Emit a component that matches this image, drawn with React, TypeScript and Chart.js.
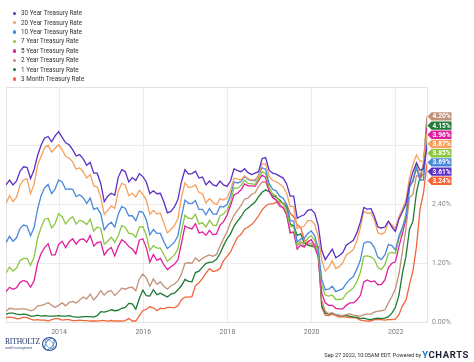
import React, { useEffect, useRef } from "react";
import { Chart, registerables } from "chart.js";

Chart.register(...registerables);

// First point: Sep 2012, one point per month, last point Sep 2022
const firstMonth = { year: 2012, month: 9 };
const firstX = 2012.74; // decimal year of first observation
const lastX = 2022.74;

const seriesNames = [
  "30 Year Treasury Rate",
  "20 Year Treasury Rate",
  "10 Year Treasury Rate",
  "7 Year Treasury Rate",
  "5 Year Treasury Rate",
  "2 Year Treasury Rate",
  "1 Year Treasury Rate",
  "3 Month Treasury Rate",
];

const seriesColors = [
  "#5b30c4",
  "#f6a05c",
  "#4a88da",
  "#8cc641",
  "#df1f9d",
  "#c2917a",
  "#1f7a33",
  "#f0653a",
];

const t30 = [
  2.8, 2.9, 2.8, 2.88,
  3.08, 3.17, 3.16, 2.93, 3.11, 3.4, 3.61, 3.76, 3.79, 3.68, 3.8, 3.89,
  3.77, 3.66, 3.62, 3.52, 3.39, 3.42, 3.33, 3.2, 3.26, 3.04, 3.04, 2.83,
  2.46, 2.57, 2.63, 2.59, 2.96, 3.11, 3.07, 2.86, 2.95, 2.89, 3.03, 2.97,
  2.86, 2.62, 2.68, 2.62, 2.63, 2.45, 2.23, 2.26, 2.35, 2.5, 2.86, 3.11,
  3.02, 3.03, 3.08, 2.94, 2.96, 2.8, 2.88, 2.8, 2.78, 2.88, 2.8, 2.77,
  2.88, 3.13, 3.09, 3.07, 3.13, 3.05, 3.01, 3.04, 3.07, 3.34, 3.36, 3.1,
  3.04, 3.02, 2.98, 2.94, 2.82, 2.57, 2.57, 2.12, 2.16, 2.19, 2.28, 2.3,
  2.22, 1.97, 1.46, 1.27, 1.38, 1.49, 1.31, 1.36, 1.42, 1.57, 1.62, 1.67,
  1.82, 2.04, 2.34, 2.3, 2.32, 2.16, 1.94, 1.92, 1.94, 2.06, 1.94, 1.85,
  2.1, 2.25, 2.41, 2.81, 3.07, 3.25, 3.1, 3.13, 3.61,
];

const t20 = [
  2.42, 2.58, 2.46, 2.55,
  2.8, 2.9, 2.93, 2.62, 2.81, 3.2, 3.38, 3.56, 3.61, 3.47, 3.55, 3.62,
  3.52, 3.38, 3.35, 3.27, 3.12, 3.15, 3.07, 2.94, 3.01, 2.78, 2.76, 2.55,
  2.2, 2.28, 2.37, 2.32, 2.67, 2.83, 2.8, 2.58, 2.63, 2.55, 2.69, 2.61,
  2.49, 2.2, 2.28, 2.21, 2.22, 2.02, 1.82, 1.89, 1.97, 2.11, 2.54, 2.84,
  2.75, 2.76, 2.8, 2.65, 2.62, 2.43, 2.52, 2.44, 2.4, 2.52, 2.49, 2.53,
  2.69, 2.94, 2.92, 2.91, 2.98, 2.93, 2.9, 2.91, 2.98, 3.23, 3.23, 2.98,
  2.89, 2.87, 2.82, 2.76, 2.63, 2.36, 2.36, 1.91, 1.94, 1.96, 2.07, 2.07,
  2.0, 1.74, 1.26, 1.04, 1.12, 1.25, 1.09, 1.13, 1.21, 1.37, 1.42, 1.48,
  1.66, 1.93, 2.26, 2.22, 2.23, 2.09, 1.82, 1.79, 1.83, 2.05, 1.98, 1.91,
  2.15, 2.31, 2.49, 2.94, 3.22, 3.41, 3.28, 3.29, 3.87,
];

const t10 = [
  1.62, 1.75, 1.65, 1.72,
  1.91, 1.98, 1.96, 1.76, 1.93, 2.3, 2.58, 2.74, 2.81, 2.62, 2.72, 2.9,
  2.86, 2.71, 2.72, 2.71, 2.56, 2.6, 2.54, 2.42, 2.53, 2.3, 2.33, 2.21,
  1.88, 1.98, 2.04, 1.94, 2.2, 2.36, 2.32, 2.17, 2.17, 2.07, 2.26, 2.24,
  2.09, 1.78, 1.89, 1.81, 1.81, 1.64, 1.5, 1.56, 1.63, 1.76, 2.14, 2.49,
  2.43, 2.42, 2.48, 2.3, 2.3, 2.19, 2.32, 2.21, 2.2, 2.36, 2.35, 2.4,
  2.58, 2.86, 2.84, 2.87, 2.98, 2.91, 2.89, 2.89, 3.0, 3.15, 3.12, 2.83,
  2.71, 2.68, 2.57, 2.53, 2.4, 2.07, 2.06, 1.63, 1.7, 1.71, 1.81, 1.86,
  1.76, 1.5, 0.87, 0.66, 0.67, 0.73, 0.62, 0.65, 0.68, 0.79, 0.87, 0.93,
  1.08, 1.26, 1.61, 1.64, 1.62, 1.52, 1.32, 1.28, 1.37, 1.58, 1.56, 1.47,
  1.76, 1.93, 2.13, 2.75, 2.9, 3.14, 2.9, 2.9, 3.69,
];

const t7 = [
  1.0, 1.12, 1.04, 1.1,
  1.25, 1.3, 1.3, 1.16, 1.32, 1.71, 1.93, 2.1, 2.12, 1.92, 2.01, 2.21,
  2.15, 2.0, 2.1, 2.15, 2.0, 2.08, 2.05, 1.99, 2.1, 1.86, 1.94, 1.91,
  1.59, 1.65, 1.73, 1.63, 1.76, 1.97, 1.93, 1.81, 1.8, 1.73, 1.94, 1.95,
  1.77, 1.46, 1.56, 1.51, 1.51, 1.38, 1.24, 1.3, 1.37, 1.49, 1.85, 2.18,
  2.12, 2.11, 2.2, 2.0, 2.03, 1.94, 2.08, 1.98, 1.97, 2.17, 2.21, 2.28,
  2.46, 2.74, 2.73, 2.79, 2.9, 2.83, 2.82, 2.81, 2.94, 3.07, 3.03, 2.75,
  2.62, 2.58, 2.46, 2.42, 2.27, 1.95, 1.95, 1.56, 1.61, 1.61, 1.71, 1.76,
  1.67, 1.38, 0.76, 0.55, 0.53, 0.55, 0.46, 0.46, 0.47, 0.58, 0.64, 0.7,
  0.82, 1.01, 1.34, 1.35, 1.33, 1.28, 1.11, 1.07, 1.17, 1.4, 1.42, 1.4,
  1.7, 1.9, 2.23, 2.76, 2.89, 3.23, 2.9, 3.01, 3.85,
];

const t5 = [
  0.62, 0.71, 0.67, 0.7,
  0.81, 0.85, 0.82, 0.71, 0.84, 1.2, 1.4, 1.52, 1.6, 1.37, 1.37, 1.58,
  1.65, 1.52, 1.64, 1.7, 1.59, 1.68, 1.7, 1.63, 1.77, 1.55, 1.62, 1.64,
  1.37, 1.47, 1.52, 1.35, 1.54, 1.68, 1.63, 1.54, 1.49, 1.39, 1.67, 1.7,
  1.52, 1.22, 1.38, 1.26, 1.3, 1.17, 1.07, 1.13, 1.18, 1.27, 1.6, 1.96,
  1.92, 1.9, 2.01, 1.82, 1.84, 1.77, 1.87, 1.78, 1.8, 1.98, 2.05, 2.18,
  2.38, 2.6, 2.63, 2.7, 2.82, 2.78, 2.78, 2.77, 2.89, 3.0, 2.95, 2.68,
  2.54, 2.49, 2.37, 2.33, 2.19, 1.83, 1.83, 1.49, 1.57, 1.53, 1.64, 1.68,
  1.56, 1.32, 0.59, 0.39, 0.34, 0.34, 0.28, 0.27, 0.27, 0.34, 0.39, 0.39,
  0.45, 0.54, 0.82, 0.86, 0.82, 0.84, 0.76, 0.77, 0.86, 1.11, 1.2, 1.23,
  1.54, 1.81, 2.11, 2.78, 2.87, 3.19, 2.96, 3.03, 3.96,
];

const t2 = [
  0.22, 0.28, 0.27, 0.26,
  0.27, 0.27, 0.26, 0.23, 0.25, 0.33, 0.34, 0.36, 0.4, 0.34, 0.3, 0.34,
  0.39, 0.33, 0.4, 0.42, 0.39, 0.45, 0.51, 0.47, 0.57, 0.45, 0.53, 0.64,
  0.55, 0.62, 0.64, 0.54, 0.61, 0.69, 0.67, 0.7, 0.71, 0.64, 0.88, 0.98,
  0.9, 0.73, 0.88, 0.77, 0.82, 0.73, 0.67, 0.74, 0.77, 0.84, 0.98, 1.2,
  1.21, 1.2, 1.31, 1.24, 1.3, 1.34, 1.37, 1.34, 1.38, 1.55, 1.7, 1.84,
  2.03, 2.18, 2.28, 2.38, 2.51, 2.53, 2.61, 2.64, 2.77, 2.86, 2.86, 2.68,
  2.54, 2.5, 2.41, 2.34, 2.21, 1.81, 1.84, 1.57, 1.65, 1.55, 1.61, 1.61,
  1.52, 1.33, 0.45, 0.22, 0.17, 0.19, 0.14, 0.14, 0.13, 0.15, 0.17, 0.14,
  0.13, 0.12, 0.15, 0.16, 0.16, 0.2, 0.22, 0.23, 0.25, 0.39, 0.52, 0.68,
  0.98, 1.44, 1.91, 2.54, 2.61, 2.99, 2.97, 3.25, 4.2,
];

const t1 = [
  0.16, 0.18, 0.18, 0.16,
  0.15, 0.16, 0.15, 0.12, 0.12, 0.14, 0.12, 0.13, 0.12, 0.12, 0.12, 0.13,
  0.12, 0.12, 0.13, 0.11, 0.1, 0.1, 0.11, 0.11, 0.11, 0.1, 0.13, 0.21,
  0.2, 0.22, 0.25, 0.23, 0.24, 0.28, 0.3, 0.38, 0.37, 0.26, 0.48, 0.65,
  0.54, 0.53, 0.66, 0.56, 0.59, 0.55, 0.51, 0.57, 0.59, 0.66, 0.74, 0.87,
  0.83, 0.82, 1.01, 1.04, 1.12, 1.2, 1.22, 1.23, 1.28, 1.4, 1.56, 1.7,
  1.8, 1.96, 2.06, 2.15, 2.27, 2.33, 2.39, 2.45, 2.56, 2.65, 2.7, 2.66,
  2.58, 2.55, 2.49, 2.42, 2.34, 2.0, 1.96, 1.77, 1.8, 1.61, 1.57, 1.55,
  1.53, 1.41, 0.33, 0.18, 0.16, 0.18, 0.15, 0.13, 0.13, 0.13, 0.12, 0.1,
  0.1, 0.07, 0.08, 0.06, 0.05, 0.07, 0.08, 0.07, 0.08, 0.11, 0.18, 0.3,
  0.55, 1.0, 1.34, 1.89, 2.06, 2.65, 2.96, 3.2, 4.15,
];

const t3m = [
  0.09, 0.1, 0.09, 0.07,
  0.07, 0.1, 0.09, 0.06, 0.04, 0.05, 0.04, 0.04, 0.02, 0.05, 0.07, 0.07,
  0.04, 0.05, 0.05, 0.03, 0.03, 0.04, 0.03, 0.03, 0.02, 0.02, 0.02, 0.03,
  0.03, 0.02, 0.03, 0.02, 0.02, 0.02, 0.03, 0.07, 0.02, 0.02, 0.13, 0.23,
  0.26, 0.31, 0.29, 0.23, 0.28, 0.27, 0.3, 0.3, 0.29, 0.33, 0.45, 0.51,
  0.51, 0.52, 0.74, 0.8, 0.89, 1.0, 1.09, 1.03, 1.05, 1.09, 1.25, 1.34,
  1.43, 1.59, 1.73, 1.79, 1.9, 1.94, 1.99, 2.07, 2.17, 2.29, 2.37, 2.41,
  2.42, 2.44, 2.45, 2.43, 2.4, 2.22, 2.15, 1.99, 1.93, 1.69, 1.57, 1.57,
  1.55, 1.54, 0.3, 0.14, 0.13, 0.16, 0.13, 0.1, 0.11, 0.1, 0.09, 0.09,
  0.08, 0.04, 0.03, 0.02, 0.02, 0.05, 0.05, 0.05, 0.04, 0.05, 0.05, 0.06,
  0.15, 0.33, 0.44, 0.76, 1.05, 1.54, 2.3, 2.63, 3.24,
];

const seriesValues = [t30, t20, t10, t7, t5, t2, t1, t3m];

const yTickValues = [0, 1.2, 2.4, 3.6, 4.8];
const yLabelledTicks = [0, 1.2, 2.4];
const xTickYears = [2014, 2016, 2018, 2020, 2022];

const monthLabels: string[] = t30.map((_, i) => {
  const m = firstMonth.month - 1 + i;
  const y = firstMonth.year + Math.floor(m / 12);
  return `${y}-${String((m % 12) + 1).padStart(2, "0")}`;
});
const xValues = monthLabels.map((_, i) => firstX + i / 12);

const framePlugin = {
  id: "frame",
  beforeDatasetsDraw(chart: any) {
    const { ctx, chartArea } = chart;
    ctx.save();
    ctx.strokeStyle = "#e3e3e3";
    ctx.lineWidth = 1;
    ctx.strokeRect(
      Math.round(chartArea.left) + 0.5,
      Math.round(chartArea.top) + 0.5,
      Math.round(chartArea.right - chartArea.left),
      Math.round(chartArea.bottom - chartArea.top)
    );
    ctx.restore();
  },
};

const tagPlugin = {
  id: "lastTags",
  afterDraw(chart: any) {
    const { ctx, chartArea } = chart;
    const yScale = chart.scales.y;
    const items = chart.data.datasets.map((ds: any, i: number) => {
      const last = ds.data[ds.data.length - 1].y;
      return { v: last, color: seriesColors[i], y: yScale.getPixelForValue(last) };
    });
    items.sort((a: any, b: any) => b.v - a.v);
    const gap = 9.2;
    for (let i = 1; i < items.length; i++) {
      if (items[i].y < items[i - 1].y + gap) items[i].y = items[i - 1].y + gap;
    }
    const x0 = chartArea.right + 0.5;
    const h = 8.4;
    const w = 24;
    ctx.save();
    ctx.font = "bold 6.6px Roboto";
    ctx.textBaseline = "middle";
    ctx.textAlign = "center";
    for (const it of items) {
      ctx.fillStyle = it.color;
      ctx.beginPath();
      ctx.moveTo(x0, it.y);
      ctx.lineTo(x0 + 4, it.y - h / 2);
      ctx.lineTo(x0 + w, it.y - h / 2);
      ctx.lineTo(x0 + w, it.y + h / 2);
      ctx.lineTo(x0 + 4, it.y + h / 2);
      ctx.closePath();
      ctx.fill();
      ctx.fillStyle = "#ffffff";
      ctx.fillText(it.v.toFixed(2) + "%", x0 + 4 + (w - 4) / 2, it.y + 0.3);
    }
    ctx.restore();
  },
};

export default function App() {
  const canvasRef = useRef<HTMLCanvasElement | null>(null);

  useEffect(() => {
    document.body.style.margin = "0";
    if (!canvasRef.current) return;
    Chart.defaults.font.family = "Roboto";
    const chart = new Chart(canvasRef.current, {
      type: "line",
      data: {
        datasets: seriesNames.map((name, i) => ({
          label: name,
          data: seriesValues[i].map((v, j) => ({ x: xValues[j], y: v })),
          borderColor: seriesColors[i],
          backgroundColor: seriesColors[i],
          borderWidth: 1.3,
          pointRadius: 0,
          tension: 0,
          fill: false,
        })),
      },
      options: {
        responsive: false,
        animation: false,
        devicePixelRatio: 1,
        layout: { padding: { left: 6, top: 87, right: 0, bottom: 0 } },
        plugins: {
          legend: { display: false },
          tooltip: { enabled: false },
        },
        scales: {
          x: {
            type: "linear",
            min: firstX,
            max: lastX,
            afterBuildTicks: (scale: any) => {
              scale.ticks = xTickYears.map((v) => ({ value: v }));
            },
            afterFit: (scale: any) => {
              scale.height = 40;
            },
            ticks: {
              callback: (v: any) => String(v),
              color: "#777",
              font: { size: 7 },
              padding: 6,
              maxRotation: 0,
            },
            grid: { color: "#ececec", drawTicks: false },
            border: { display: false },
          },
          y: {
            position: "right",
            min: 0,
            max: 4.8,
            afterBuildTicks: (scale: any) => {
              scale.ticks = yTickValues.map((v) => ({ value: v }));
            },
            afterFit: (scale: any) => {
              scale.width = 47;
            },
            ticks: {
              callback: (v: any) =>
                yLabelledTicks.includes(Number(v)) ? Number(v).toFixed(2) + "%" : "",
              color: "#888",
              font: { size: 7 },
              padding: 5,
            },
            grid: { color: "#ececec", drawTicks: false },
            border: { display: false },
          },
        },
      },
      plugins: [framePlugin, tagPlugin],
    });
    return () => chart.destroy();
  }, []);

  return (
    <div style={{ position: "relative", width: 474, height: 362, fontFamily: "Roboto", background: "#fff" }}>
      <canvas ref={canvasRef} width={474} height={362} style={{ display: "block" }} />
      <div style={{ position: "absolute", left: 12.5, top: 8.6 }}>
        {seriesNames.map((n, i) => (
          <div key={n} style={{ display: "flex", alignItems: "center", height: 9.4, fontSize: 6.3, color: "#333", whiteSpace: "nowrap" }}>
            <span style={{ width: 3.4, height: 3.4, borderRadius: "50%", background: seriesColors[i], display: "inline-block", marginRight: 5.2 }} />
            <span>{n}</span>
          </div>
        ))}
      </div>
      <div style={{ position: "absolute", left: 5, top: 336, display: "flex", alignItems: "center" }}>
        <div style={{ display: "flex", flexDirection: "column" }}>
          <span style={{ fontFamily: "Liberation Serif", fontSize: 7.6, color: "#24356b", letterSpacing: -0.2, lineHeight: "8px" }}>RITHOLTZ</span>
          <span style={{ fontSize: 3, color: "#4a5a8a", lineHeight: "4px" }}>wealth management</span>
        </div>
        <svg width={17} height={16} viewBox="0 0 17 16" style={{ marginLeft: 1 }}>
          <ellipse cx={8.5} cy={8} rx={7} ry={6.5} fill="none" stroke="#2a4a8c" strokeWidth={1.1} />
          <ellipse cx={8.5} cy={8} rx={3.6} ry={6.5} fill="none" stroke="#3a6ab0" strokeWidth={0.9} transform="rotate(35 8.5 8)" />
          <ellipse cx={8.5} cy={8} rx={3.2} ry={5.5} fill="none" stroke="#5a8ad0" strokeWidth={0.8} transform="rotate(-40 8.5 8)" />
        </svg>
      </div>
      <div style={{ position: "absolute", right: 5, top: 349, display: "flex", alignItems: "center", whiteSpace: "nowrap" }}>
        <span style={{ fontSize: 5.7, color: "#333", letterSpacing: -0.1 }}>Sep 27 2022, 10:05AM EDT. Powered by</span>
        <span style={{ fontSize: 9.5, fontWeight: 700, letterSpacing: 0.6, marginLeft: 1 }}>
          <span style={{ color: "#1b77d2" }}>Y</span>
          <span style={{ color: "#1f2233" }}>CHARTS</span>
        </span>
      </div>
    </div>
  );
}
